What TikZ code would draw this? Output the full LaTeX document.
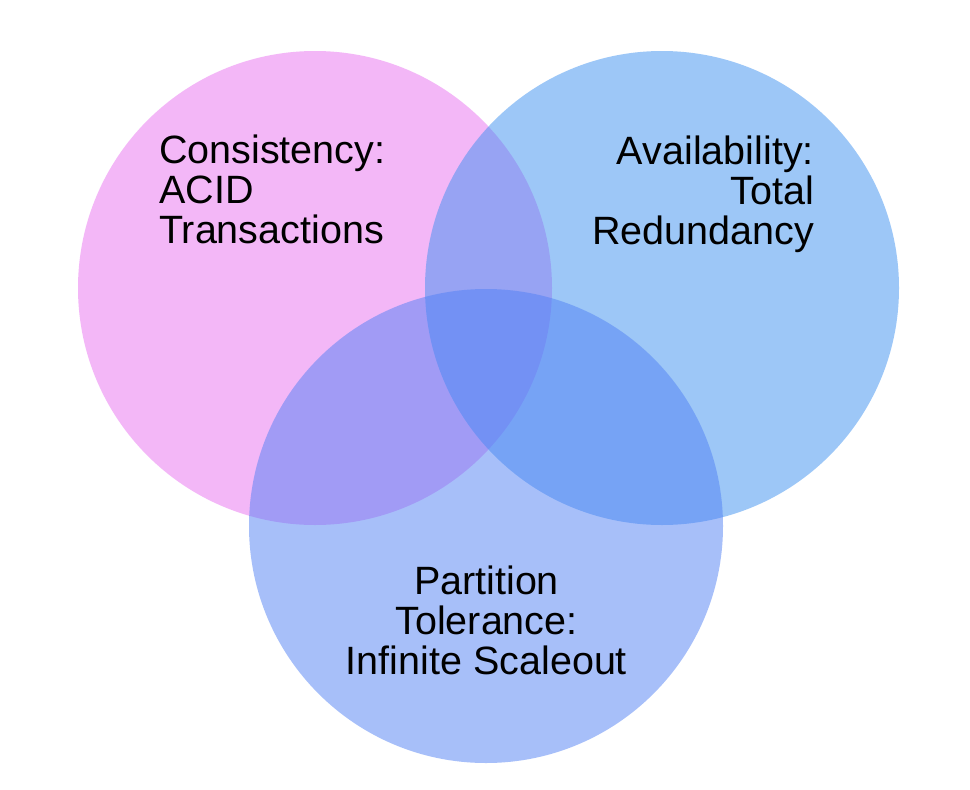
\documentclass[tikz,border=0pt]{standalone}
\usepackage{fontspec}
\setmainfont{Liberation Sans}
\definecolor{cpink}{RGB}{233,113,241}
\definecolor{cblue}{RGB}{61,145,241}
\definecolor{cbot}{RGB}{81,129,245}
\begin{document}
\begin{tikzpicture}[x=1pt,y=-1pt,
  venn/.style={fill opacity=0.5},
  lbl/.style={inner sep=0pt, font=\fontsize{39.5}{40}\selectfont, text=black}]
\useasboundingbox (0,0) rectangle (970,790);
\fill[white] (0,0) rectangle (970,790);
\fill[venn, cpink] (315,288) circle[radius=237];
\fill[venn, cblue] (662,288) circle[radius=237];
\fill[venn, cbot] (486,526) circle[radius=237];
\node[lbl, anchor=north west, align=left] (cons) at (159,134.5) {Consistency:\\ACID\\Transactions};
\node[lbl, anchor=north east, align=right] (avail) at (814,135.5) {Availability:\\Total\\Redundancy};
\node[lbl, anchor=north, align=center] (part) at (486.5,565.5) {Partition\\Tolerance:\\Infinite Scaleout};
\end{tikzpicture}
\end{document}
